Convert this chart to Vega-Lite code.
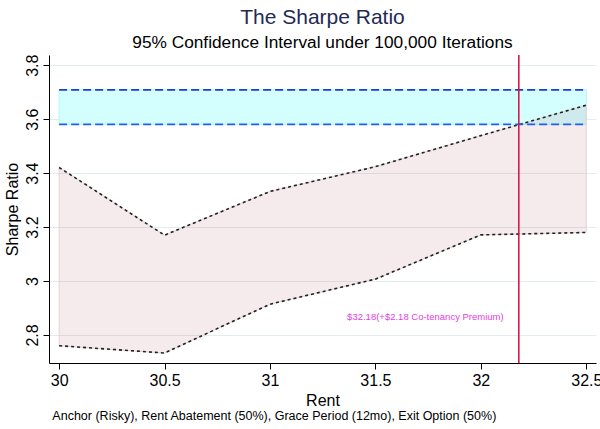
{
  "$schema": "https://vega.github.io/schema/vega-lite/v6.json",
  "autosize": "none",
  "width": 547,
  "height": 308,
  "padding": {"left": 49, "top": 55, "right": 4, "bottom": 66},
  "background": "white",
  "config": {
    "view": {"stroke": null},
    "font": "Liberation Sans",
    "axis": {"labelFont": "Liberation Sans", "titleFont": "Liberation Sans", "labelColor": "black", "titleColor": "black", "titleFontWeight": "normal", "domainColor": "black", "tickColor": "black"}
  },
  "title": {
    "text": "The Sharpe Ratio",
    "subtitle": "95% Confidence Interval under 100,000 Iterations",
    "anchor": "middle",
    "fontSize": 21,
    "fontWeight": "normal",
    "color": "#1f2a55",
    "subtitleFontSize": 17.3,
    "subtitleColor": "black",
    "subtitlePadding": 6,
    "offset": 3
  },
  "datasets": {
    "ci": [
      {"rent": 30.0, "upper": 3.421, "lower": 2.760},
      {"rent": 30.5, "upper": 3.170, "lower": 2.733},
      {"rent": 31.0, "upper": 3.332, "lower": 2.914},
      {"rent": 31.5, "upper": 3.424, "lower": 3.007},
      {"rent": 32.0, "upper": 3.539, "lower": 3.171},
      {"rent": 32.5, "upper": 3.652, "lower": 3.180}
    ],
    "band": [
      {"start": 30.0, "end": 32.5, "low": 3.581, "high": 3.709}
    ],
    "marker": [
      {"rent": 32.18, "label": "$32.18(+$2.18 Co-tenancy Premium)", "labelRent": 31.737, "labelY": 2.867}
    ],
    "note": [
      {"rent": 29.968, "y": 2.486, "text": "Anchor (Risky), Rent Abatement (50%), Grace Period (12mo), Exit Option (50%)"}
    ]
  },
  "encoding": {
    "x": {
      "type": "quantitative",
      "scale": {"domain": [29.952, 32.546], "nice": false, "zero": false},
      "axis": {
        "title": "Rent",
        "values": [30, 30.5, 31, 31.5, 32, 32.5],
        "format": "~g",
        "grid": false,
        "labelFontSize": 16,
        "titleFontSize": 16,
        "tickSize": 6,
        "labelPadding": 3,
        "titlePadding": 4,
        "labelFlush": false
      }
    },
    "y": {
      "type": "quantitative",
      "scale": {"domain": [2.696, 3.838], "nice": false, "zero": false},
      "axis": {
        "title": "Sharpe Ratio",
        "values": [2.8, 3.0, 3.2, 3.4, 3.6, 3.8],
        "format": "~g",
        "grid": true,
        "gridColor": "#e3edef",
        "labelAngle": -90,
        "labelAlign": "center",
        "labelBaseline": "bottom",
        "labelFontSize": 16,
        "titleFontSize": 16,
        "tickSize": 6,
        "labelPadding": 3,
        "titlePadding": 4,
        "labelFlush": false
      }
    }
  },
  "layer": [
    {
      "data": {"name": "band"},
      "mark": {"type": "rect", "fill": "#d4ffff", "stroke": "#b6f3f3", "strokeWidth": 1},
      "encoding": {
        "x": {"field": "start"},
        "x2": {"field": "end"},
        "y": {"field": "low"},
        "y2": {"field": "high"}
      }
    },
    {
      "data": {"name": "ci"},
      "mark": {"type": "area", "fill": "rgb(155,45,65)", "fillOpacity": 0.1, "stroke": "#e2d4d7", "strokeWidth": 1},
      "encoding": {
        "x": {"field": "rent"},
        "y": {"field": "upper"},
        "y2": {"field": "lower"}
      }
    },
    {
      "data": {"name": "ci"},
      "mark": {"type": "line", "color": "#222222", "strokeWidth": 1.6, "strokeDash": [3, 3]},
      "encoding": {
        "x": {"field": "rent"},
        "y": {"field": "upper"}
      }
    },
    {
      "data": {"name": "ci"},
      "mark": {"type": "line", "color": "#222222", "strokeWidth": 1.6, "strokeDash": [3, 3]},
      "encoding": {
        "x": {"field": "rent"},
        "y": {"field": "lower"}
      }
    },
    {
      "data": {"name": "band"},
      "mark": {"type": "rule", "color": "#1f3fd0", "strokeWidth": 1.8, "strokeDash": [8, 4]},
      "encoding": {
        "x": {"field": "start"},
        "x2": {"field": "end"},
        "y": {"field": "high"}
      }
    },
    {
      "data": {"name": "band"},
      "mark": {"type": "rule", "color": "#2060f0", "strokeWidth": 1.8, "strokeDash": [8, 4]},
      "encoding": {
        "x": {"field": "start"},
        "x2": {"field": "end"},
        "y": {"field": "low"}
      }
    },
    {
      "data": {"name": "marker"},
      "mark": {"type": "rule", "color": "#d0103a", "strokeWidth": 1.5},
      "encoding": {
        "x": {"field": "rent"}
      }
    },
    {
      "data": {"name": "marker"},
      "mark": {"type": "text", "color": "#e43ee4", "fontSize": 9.5, "align": "center", "baseline": "middle"},
      "encoding": {
        "x": {"field": "labelRent"},
        "y": {"field": "labelY"},
        "text": {"field": "label"}
      }
    },
    {
      "data": {"name": "note"},
      "mark": {"type": "text", "color": "black", "fontSize": 12.5, "align": "left", "baseline": "alphabetic"},
      "encoding": {
        "x": {"field": "rent"},
        "y": {"field": "y"},
        "text": {"field": "text"}
      }
    }
  ]
}
